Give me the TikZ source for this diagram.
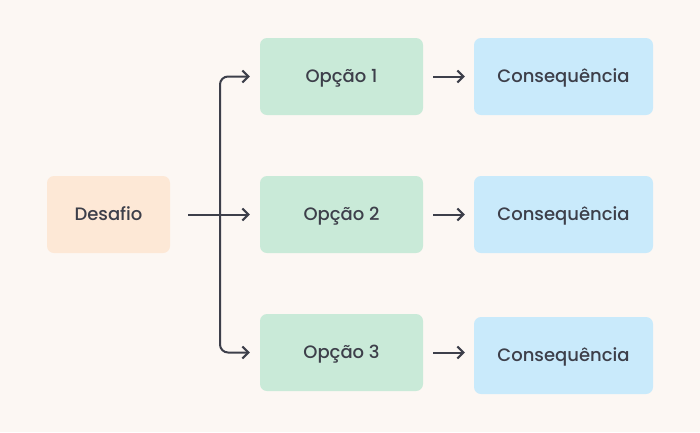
\documentclass[tikz,border=0pt]{standalone}
\usepackage{fontspec}
\setmainfont{Poppins}[UprightFont=* Medium]
\usetikzlibrary{arrows.meta}
\definecolor{bg}{HTML}{FCF7F3}
\definecolor{peach}{HTML}{FDE8D6}
\definecolor{mint}{HTML}{C9EAD8}
\definecolor{sky}{HTML}{C9EAFB}
\definecolor{ink}{HTML}{3D3F4A}
\tikzset{
  box/.style={rounded corners=7pt, minimum height=77pt, inner sep=0pt, text=ink,
    font=\fontsize{18}{21}\selectfont, text height=14pt, text depth=1.4pt},
  startbox/.style={box, fill=peach, minimum width=123pt},
  optbox/.style={box, fill=mint, minimum width=163pt},
  conbox/.style={box, fill=sky, minimum width=179pt},
  conn/.style={draw=ink, line width=2pt, -{Straight Barb[length=6pt,width=12pt]}},
}
\begin{document}
\begin{tikzpicture}[x=1pt,y=-1pt]
\fill[bg] (0,0) rectangle (700,432);
\useasboundingbox (0,0) rectangle (700,432);
\node[startbox] (d) at (108.5,214.5) {Desafio};
\node[optbox] (o1) at (341.5,76.5) {Opção 1};
\node[optbox] (o2) at (341.5,214.5) {Opção 2};
\node[optbox] (o3) at (341.5,352.5) {Opção 3};
\node[conbox] (c1) at (563.5,76.5) {Consequência};
\node[conbox] (c2) at (563.5,214.5) {Consequência};
\node[conbox] (c3) at (563.5,355.5) {Consequência};
\coordinate (j) at (220,214.5);
\draw[conn] ([xshift=18pt]d.east) -- ([xshift=-10pt]o2.west);
\draw[conn, rounded corners=8pt] (j) |- ([xshift=-10pt]o1.west);
\draw[conn, rounded corners=8pt] (j) |- ([xshift=-10pt]o3.west);
\draw[conn] ([xshift=10pt]o1.east) -- ([xshift=-9pt]c1.west);
\draw[conn] ([xshift=10pt]o2.east) -- ([xshift=-9pt]c2.west);
\draw[conn] ([xshift=10pt]o3.east) -- ([xshift=-9pt]c3.west|-o3.east);
\end{tikzpicture}
\end{document}
